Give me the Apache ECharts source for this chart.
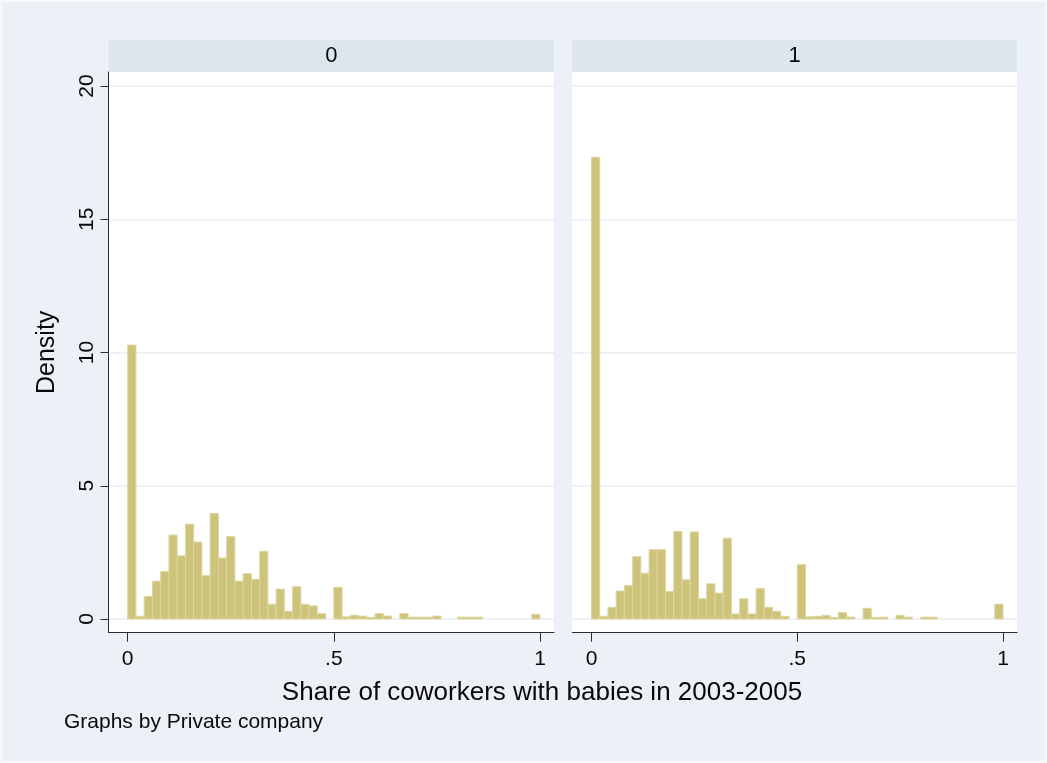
<!DOCTYPE html>
<html>
<head>
<meta charset="utf-8">
<title>Share of coworkers with babies in 2003-2005</title>
<script src="https://cdn.jsdelivr.net/npm/echarts@6/dist/echarts.min.js"></script>
<style>
  html, body { margin: 0; padding: 0; background: #edf1f7; }
  #chart { width: 1047px; height: 763px; }
</style>
</head>
<body>
<div id="chart"></div>
<script>
// Histogram bins: width 0.02 starting at 0 (50 bins on [0, 1])
const binStart = 0;
const binWidth = 0.02;

// Panel labels (Private company = 0 / 1)
const panelLabels = ['0', '1'];

// Density per bin, Private company = 0
const densityPrivate0 = [
  10.28, 0.10, 0.85, 1.42, 1.78, 3.15, 2.37, 3.56, 2.89, 1.63,
  3.96, 2.29, 3.09, 1.42, 1.70, 1.49, 2.54, 0.55, 1.12, 0.29,
  1.21, 0.55, 0.49, 0.20, 0.00, 1.19, 0.08, 0.14, 0.11, 0.06,
  0.20, 0.11, 0.00, 0.20, 0.07, 0.07, 0.07, 0.11, 0.00, 0.00,
  0.07, 0.07, 0.07, 0.00, 0.00, 0.00, 0.00, 0.00, 0.00, 0.17
];

// Density per bin, Private company = 1
const densityPrivate1 = [
  17.33, 0.10, 0.44, 1.05, 1.25, 2.34, 1.72, 2.60, 2.60, 1.03,
  3.29, 1.47, 3.27, 0.76, 1.32, 0.97, 3.03, 0.19, 0.76, 0.19,
  1.15, 0.44, 0.29, 0.10, 0.00, 2.04, 0.08, 0.10, 0.14, 0.06,
  0.24, 0.07, 0.00, 0.40, 0.06, 0.07, 0.00, 0.14, 0.07, 0.00,
  0.07, 0.07, 0.00, 0.00, 0.00, 0.00, 0.00, 0.00, 0.00, 0.56
];

// Axis ticks and labels
const xTicks = [0, 0.5, 1];
const xTickLabels = ['0', '.5', '1'];
const yTicks = [0, 5, 10, 15, 20];

const xTitle = 'Share of coworkers with babies in 2003-2005';
const yTitle = 'Density';
const note = 'Graphs by Private company';

const FONT = 'Arial, "Liberation Sans", sans-serif';
const BAR_FILL = '#cdc37b';
const BAR_EDGE = '#ddd69e';
const AXIS_COLOR = '#2b2b2b';
const TEXT_COLOR = '#0a0a0a';
const GRID_COLOR = '#e9eef5';
const STRIP_COLOR = '#dde5ef';

const grids = [
  { left: 108.5, top: 72, width: 445.5, height: 560.7 },
  { left: 572.3, top: 72, width: 444.7, height: 560.7 }
];

function histData(values) {
  return values.map((v, i) => [binStart + i * binWidth, binStart + (i + 1) * binWidth, v]);
}

function renderBin(params, api) {
  const x0 = api.value(0), x1 = api.value(1), v = api.value(2);
  if (v <= 0) return null;
  const p0 = api.coord([x0, 0]);
  const p1 = api.coord([x1, v]);
  return {
    type: 'rect',
    shape: { x: p0[0], y: p1[1], width: p1[0] - p0[0], height: p0[1] - p1[1] },
    style: { fill: BAR_FILL, stroke: BAR_EDGE, lineWidth: 1 }
  };
}

function xAxisFor(idx) {
  return {
    type: 'value', gridIndex: idx, min: -0.0466, max: 1.034,
    axisLine: { show: true, onZero: false, lineStyle: { color: AXIS_COLOR, width: 1 } },
    axisTick: { show: true, length: 9, customValues: xTicks, lineStyle: { color: AXIS_COLOR } },
    axisLabel: {
      show: true, customValues: xTicks, margin: 16, fontSize: 21, color: TEXT_COLOR, fontFamily: FONT,
      formatter: v => xTickLabels[xTicks.indexOf(+v.toFixed(2))] ?? ''
    },
    splitLine: { show: false }
  };
}

function yAxisFor(idx) {
  const first = idx === 0;
  return {
    type: 'value', gridIndex: idx, min: -0.514, max: 20.53,
    name: first ? yTitle : '', nameLocation: 'middle', nameRotate: 90, nameGap: 49,
    nameTextStyle: { fontSize: 25, color: TEXT_COLOR, fontFamily: FONT },
    axisLine: { show: first, onZero: false, lineStyle: { color: AXIS_COLOR, width: 1 } },
    axisTick: { show: first, length: 8, customValues: yTicks, lineStyle: { color: AXIS_COLOR } },
    axisLabel: {
      show: first, customValues: yTicks, rotate: 90, margin: 11, fontSize: 21, color: TEXT_COLOR, fontFamily: FONT
    },
    splitLine: { show: true, lineStyle: { color: GRID_COLOR, width: 1.5 } }
  };
}

const chart = echarts.init(document.getElementById('chart'), null, { renderer: 'canvas' });

const stripHeaders = grids.map((g, i) => ({
  type: 'group',
  children: [
    { type: 'rect', shape: { x: g.left, y: 40, width: g.width, height: 32 }, style: { fill: STRIP_COLOR } },
    {
      type: 'text', x: g.left + g.width / 2, y: 56,
      style: { text: panelLabels[i], font: '22px ' + FONT, fill: TEXT_COLOR, align: 'center', verticalAlign: 'middle' }
    }
  ]
}));

chart.setOption({
  backgroundColor: '#edf1f7',
  animation: false,
  grid: grids.map(g => Object.assign({ show: true, backgroundColor: '#ffffff', borderWidth: 0 }, g)),
  xAxis: [xAxisFor(0), xAxisFor(1)],
  yAxis: [yAxisFor(0), yAxisFor(1)],
  series: [
    { type: 'custom', xAxisIndex: 0, yAxisIndex: 0, renderItem: renderBin, encode: { x: [0, 1], y: 2 }, data: histData(densityPrivate0) },
    { type: 'custom', xAxisIndex: 1, yAxisIndex: 1, renderItem: renderBin, encode: { x: [0, 1], y: 2 }, data: histData(densityPrivate1) }
  ],
  graphic: [
    { type: 'rect', shape: { x: 1, y: 1, width: 1045, height: 761 }, style: { fill: 'none', stroke: '#f7f9fb', lineWidth: 2 }, silent: true },
    ...stripHeaders,
    {
      type: 'text', x: 542, y: 693,
      style: { text: xTitle, font: '26px ' + FONT, fill: TEXT_COLOR, align: 'center', verticalAlign: 'middle' }
    },
    {
      type: 'text', x: 64, y: 722,
      style: { text: note, font: '21px ' + FONT, fill: TEXT_COLOR, align: 'left', verticalAlign: 'middle' }
    }
  ]
});
</script>
</body>
</html>
